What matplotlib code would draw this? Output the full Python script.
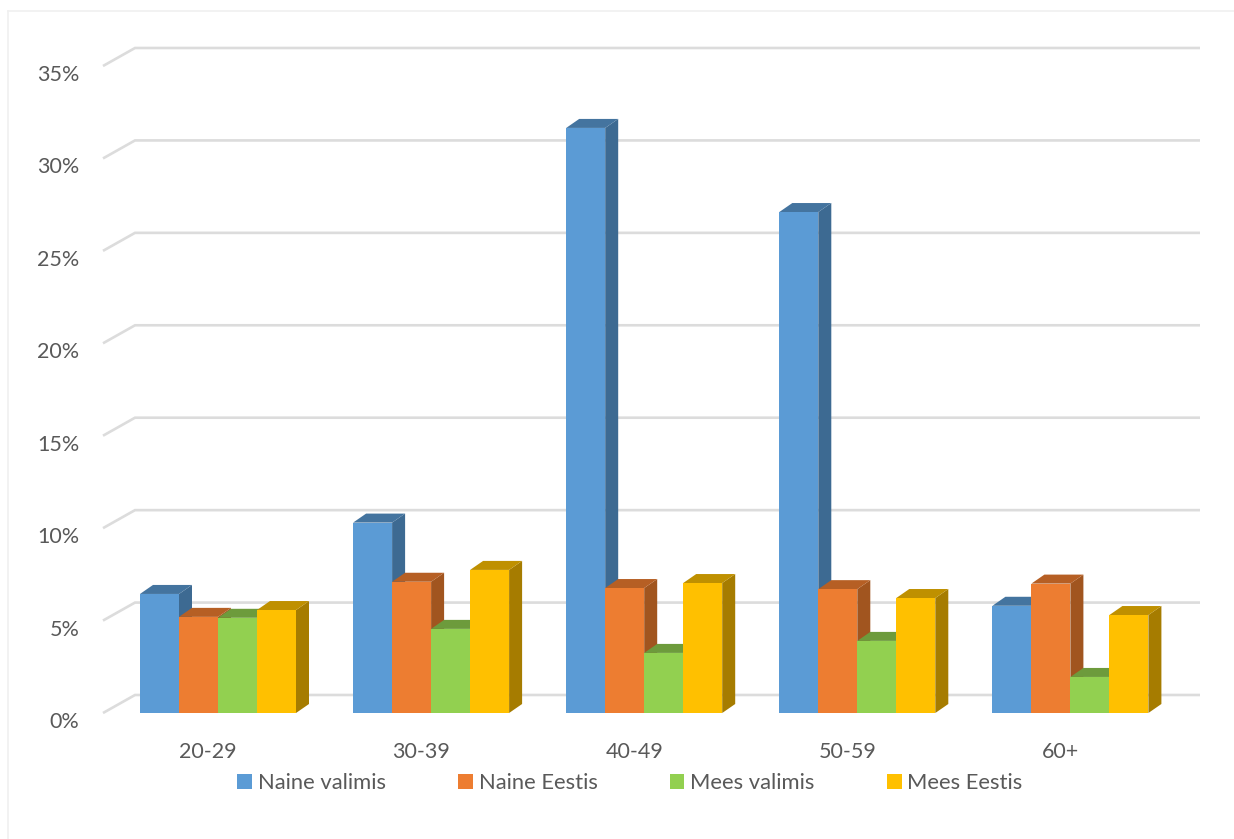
import matplotlib
matplotlib.use("Agg")
import matplotlib.pyplot as plt
from matplotlib.patches import Polygon, Rectangle
from matplotlib.lines import Line2D
from matplotlib.transforms import ScaledTranslation

categories = ["20-29", "30-39", "40-49", "50-59", "60+"]
naine_valimis = [6.44, 10.3, 31.65, 27.1, 5.8]
naine_eestis = [5.2, 7.1, 6.76, 6.7, 7.0]
mees_valimis = [5.15, 4.55, 3.25, 3.9, 1.95]
mees_eestis = [5.57, 7.74, 7.03, 6.22, 5.3]
series_names = ["Naine valimis", "Naine Eestis", "Mees valimis", "Mees Eestis"]
y_ticks = [0, 5, 10, 15, 20, 25, 30, 35]
y_tick_labels = ["0%", "5%", "10%", "15%", "20%", "25%", "30%", "35%"]

series = [naine_valimis, naine_eestis, mees_valimis, mees_eestis]
front = ["#5B9BD5", "#ED7D31", "#92D050", "#FFC000"]
top = ["#44749F", "#B65F24", "#6D9B3C", "#BF9000"]
side = ["#3D6A92", "#A1551F", "#648F37", "#A67C00"]

W, H = 1234, 839
plt.rcParams["font.family"] = ["Lato", "DejaVu Sans"]
fig = plt.figure(figsize=(W / 100, H / 100), dpi=100, facecolor="white")

# chart frame
fig.add_artist(Line2D([8 / W, 8 / W], [0, 1 - 11 / H], color="#f0f0f0", lw=1.2))
fig.add_artist(Line2D([8 / W, 1], [1 - 11 / H, 1 - 11 / H], color="#f0f0f0", lw=1.2))

left, right, bottom, topp = 103, 1168, 713, 66
ax = fig.add_axes([left / W, 1 - bottom / H, (right - left) / W, (bottom - topp) / H])
px_x = 1 / 213.1
px_y = 5 / 92.4
ax.set_xlim((left - 218) * px_x, (right - 218) * px_x)
ax.set_ylim(0, 35)
for s in ax.spines.values():
    s.set_visible(False)

# walls: back gridlines with the diagonal running to the front edge
wall_dx, wall_dy = 32 * px_x, 18 * px_y
x0, x1 = ax.get_xlim()
for t in y_ticks:
    ax.plot([x0, x0 + wall_dx, x1 + wall_dx], [t, t + wall_dy, t + wall_dy],
            color="#dcdcdc", lw=1.9, zorder=1, clip_on=False,
            solid_joinstyle="miter", solid_capstyle="butt")

# bars with side and top faces
bar_w = 39 * px_x
dx, dy = 13 * px_x, 9 * px_y
z = 2
for g in range(len(categories)):
    for k, vals in enumerate(series):
        xl = g + (k - 2) * bar_w
        xr = xl + bar_w
        v = vals[g]
        ax.add_patch(Polygon([(xr, 0), (xr + dx, dy), (xr + dx, v + dy), (xr, v)],
                             closed=True, fc=side[k], ec="none", zorder=z, clip_on=False))
        ax.add_patch(Polygon([(xl, v), (xl + dx, v + dy), (xr + dx, v + dy), (xr, v)],
                             closed=True, fc=top[k], ec="none", zorder=z, clip_on=False))
        ax.bar(xl, v, width=bar_w, align="edge", color=front[k], zorder=z, clip_on=False)
        z += 1

ax.set_xticks(range(len(categories)), categories)
ax.set_yticks(y_ticks, y_tick_labels)
ax.tick_params(axis="both", length=0, labelsize=15.5, labelcolor="#595959")
ax.tick_params(axis="x", pad=21)
ax.tick_params(axis="y", pad=17)
shift_y = ScaledTranslation(0, -7 / 100, fig.dpi_scale_trans)
for lab in ax.get_yticklabels():
    lab.set_transform(lab.get_transform() + shift_y)
shift_x = ScaledTranslation(-10 / 100, 0, fig.dpi_scale_trans)
for lab in ax.get_xticklabels():
    lab.set_transform(lab.get_transform() + shift_x)

handles = [Rectangle((0, 0), 1, 1, fc=c, ec="none") for c in front]
fig.legend(handles, series_names, loc="center", bbox_to_anchor=(630 / W, 1 - 783 / H),
           ncol=4, frameon=False, fontsize=15.8, labelcolor="#595959",
           handlelength=0.66, handleheight=0.66, handletextpad=0.27, columnspacing=3.3)

fig.savefig("out.png", dpi=100, facecolor="white")
